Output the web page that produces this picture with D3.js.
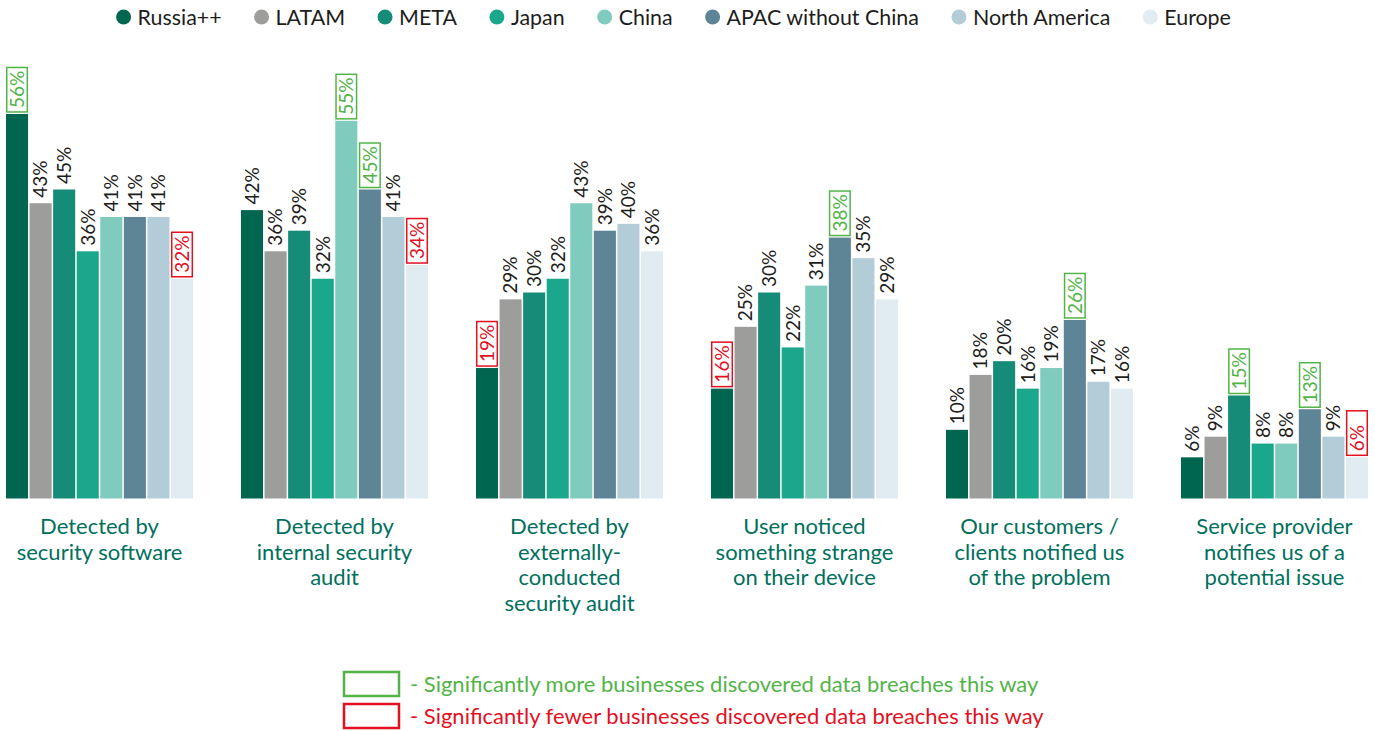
<!DOCTYPE html>
<html>
<head>
<meta charset="utf-8">
<script src="https://cdn.jsdelivr.net/npm/d3@7"></script>
<style>
  html, body { margin: 0; padding: 0; background: #fff; }
  svg { display: block; font-family: Lato, "Open Sans", sans-serif; }
</style>
</head>
<body>
<svg id="chart" width="1375" height="731"></svg>
<script>
// How businesses discovered data breaches, by region (% of respondents)
const categories = [
  "Detected by\nsecurity software",
  "Detected by\ninternal security\naudit",
  "Detected by\nexternally-\nconducted\nsecurity audit",
  "User noticed\nsomething strange\non their device",
  "Our customers /\nclients notified us\nof the problem",
  "Service provider\nnotifies us of a\npotential issue"
];
const regions = ["Russia++", "LATAM", "META", "Japan", "China", "APAC without China", "North America", "Europe"];
const regionColors = ["#00664f", "#9d9d9c", "#168b77", "#1aa78c", "#7fcbbd", "#5d8595", "#b2cdd8", "#e0ecf2"];

// values[category][region]
const values = [
  [56, 43, 45, 36, 41, 41, 41, 32],
  [42, 36, 39, 32, 55, 45, 41, 34],
  [19, 29, 30, 32, 43, 39, 40, 36],
  [16, 25, 30, 22, 31, 38, 35, 29],
  [10, 18, 20, 16, 19, 26, 17, 16],
  [6, 9, 15, 8, 8, 13, 9, 6]
];
// significance flags: 1 = significantly more, -1 = significantly fewer, 0 = none
const significance = [
  [1, 0, 0, 0, 0, 0, 0, -1],
  [0, 0, 0, 0, 1, 1, 0, -1],
  [-1, 0, 0, 0, 0, 0, 0, 0],
  [-1, 0, 0, 0, 0, 1, 0, 0],
  [0, 0, 0, 0, 0, 1, 0, 0],
  [0, 0, 1, 0, 0, 1, 0, -1]
];
const significanceNotes = [
  "- Significantly more businesses discovered data breaches this way",
  "- Significantly fewer businesses discovered data breaches this way"
];

const GREEN = "#52b447";
const RED = "#e3101f";
const TEXT = "#1d1d1b";
const CAT_COLOR = "#00705c";
const BOX_H = 44.5;

const svg = d3.select("#chart");

const x0 = d3.scaleBand().domain(d3.range(categories.length)).range([6, 1368]).paddingInner(0.204).paddingOuter(0);
const x1 = d3.scaleBand().domain(d3.range(regions.length)).range([0, x0.bandwidth()]).paddingInner(0.064).paddingOuter(0);
const y = d3.scaleLinear().domain([0, 60]).range([498.5, 86.5]);

// Bars and value labels
const groups = svg.append("g").selectAll("g")
  .data(values)
  .join("g")
  .attr("transform", (d, i) => `translate(${x0(i)},0)`);

groups.each(function(row, ci) {
  const g = d3.select(this);
  row.forEach((v, ri) => {
    const bx = x1(ri), bw = x1.bandwidth(), top = y(v), cx = bx + bw / 2;
    g.append("rect")
      .attr("x", bx).attr("y", top)
      .attr("width", bw).attr("height", y(0) - top)
      .attr("fill", regionColors[ri]);
    const sig = significance[ci][ri];
    const col = sig === 1 ? GREEN : sig === -1 ? RED : TEXT;
    g.append("text")
      .attr("transform", `translate(${cx},${top - (sig !== 0 ? 6 : 5.5)}) rotate(-90)`)
      .attr("dy", "0.36em")
      .attr("font-size", 19)
      .attr("fill", col)
      .text(v + "%");
    if (sig !== 0) {
      g.append("rect")
        .attr("x", bx + 0.75).attr("y", top - 2 - BOX_H)
        .attr("width", bw - 1.5).attr("height", BOX_H)
        .attr("fill", "none")
        .attr("stroke", col)
        .attr("stroke-width", 1.5);
    }
  });
});

// Category labels
svg.append("g").selectAll("text")
  .data(categories)
  .join("text")
  .attr("x", (d, i) => x0(i) + x0.bandwidth() / 2)
  .attr("y", 534)
  .attr("text-anchor", "middle")
  .attr("font-size", 22)
  .attr("fill", CAT_COLOR)
  .each(function(d) {
    d3.select(this).selectAll("tspan")
      .data(d.split("\n"))
      .join("tspan")
      .attr("x", d3.select(this).attr("x"))
      .attr("dy", (l, k) => k === 0 ? 0 : 25.5)
      .text(l => l);
  });

// Region legend
const legend = svg.append("g");
let lx = 123.6;
regions.forEach((r, i) => {
  legend.append("circle").attr("cx", lx).attr("cy", 17).attr("r", 7.5).attr("fill", regionColors[i]);
  const t = legend.append("text")
    .attr("x", lx + 14).attr("y", 24.5)
    .attr("font-size", 21.4)
    .attr("fill", TEXT)
    .text(r);
  lx = lx + 14 + t.node().getComputedTextLength() + 40;
});

// Significance note
const notes = svg.append("g");
[GREEN, RED].forEach((c, i) => {
  const yy = 671 + i * 32;
  notes.append("rect")
    .attr("x", 344).attr("y", yy + 1)
    .attr("width", 55).attr("height", 24)
    .attr("fill", "none").attr("stroke", c).attr("stroke-width", 2.5);
  notes.append("text")
    .attr("x", 410).attr("y", yy + 20.5)
    .attr("font-size", 22)
    .attr("fill", c)
    .text(significanceNotes[i]);
});
</script>
</body>
</html>
